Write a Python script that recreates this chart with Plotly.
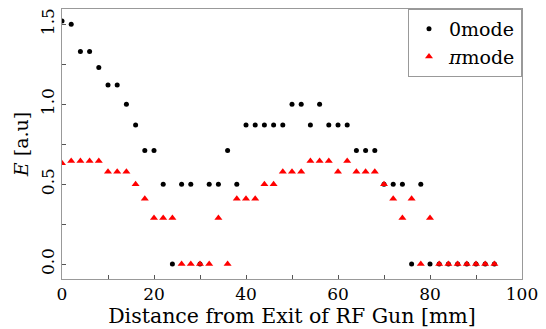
import plotly.graph_objects as go

distance = [0, 2, 4, 6, 8, 10, 12, 14, 16, 18, 20, 22, 24, 26, 28, 30, 32, 34, 36, 38,
            40, 42, 44, 46, 48, 50, 52, 54, 56, 58, 60, 62, 64, 66, 68, 70, 72, 74, 76, 78,
            80, 82, 84, 86, 88, 90, 92, 94]

zero_mode = [1.52, 1.50, 1.33, 1.33, 1.23, 1.12, 1.12, 1.0, 0.87, 0.71, 0.71, 0.5, 0.0, 0.5, 0.5, 0.0,
             0.5, 0.5, 0.71, 0.5, 0.87, 0.87, 0.87, 0.87, 0.87, 1.0, 1.0, 0.87, 1.0, 0.87, 0.87, 0.87,
             0.71, 0.71, 0.71, 0.5, 0.5, 0.5, 0.0, 0.5, 0.0, 0.0, 0.0, 0.0, 0.0, 0.0, 0.0, 0.0]

pi_mode = [0.63, 0.645, 0.645, 0.645, 0.645, 0.577, 0.577, 0.577, 0.5, 0.408, 0.289, 0.289, 0.289, 0.0, 0.0, 0.0,
           0.0, 0.289, 0.0, 0.408, 0.408, 0.408, 0.5, 0.5, 0.577, 0.577, 0.577, 0.645, 0.645, 0.645, 0.577, 0.645,
           0.577, 0.577, 0.577, 0.5, 0.408, 0.289, 0.408, 0.0, 0.289, 0.0, 0.0, 0.0, 0.0, 0.0, 0.0, 0.0]

x_ticks = [0, 20, 40, 60, 80, 100]
y_ticks = [0.0, 0.5, 1.0, 1.5]
y_tick_labels = ["0.0", "0.5", "1.0", "1.5"]

FONT = "DejaVu Serif"

fig = go.Figure()
fig.add_trace(go.Scatter(x=distance, y=zero_mode, mode="markers", name="0mode",
                         marker=dict(symbol="circle", size=5, color="black")))
fig.add_trace(go.Scatter(x=distance, y=pi_mode, mode="markers", name="<i>π</i>mode",
                         marker=dict(symbol="triangle-up", size=7, color="red")))

axis_common = dict(showgrid=False, zeroline=False, showline=True, mirror=True,
                   linecolor="#999999", linewidth=1, ticks="inside", ticklen=4,
                   tickcolor="#555555", tickfont=dict(family=FONT, size=17, color="black"))

fig.update_xaxes(range=[0, 100], tickvals=x_ticks,
                 minor=dict(ticks="inside", dtick=10, ticklen=4, tickcolor="#555555"),
                 title=dict(text="Distance from Exit of RF Gun [mm]",
                            font=dict(family=FONT, size=20.5, color="black"), standoff=2),
                 **axis_common)
fig.update_yaxes(range=[-0.093, 1.595], tickvals=y_ticks, ticktext=y_tick_labels, tickangle=-90,
                 minor=dict(ticks="inside", dtick=0.25, tick0=0, ticklen=4, tickcolor="#555555"),
                 title=dict(text="<i>E</i> [a.u]",
                            font=dict(family=FONT, size=19, color="black"), standoff=4),
                 **axis_common)

fig.update_layout(
    width=546, height=329,
    margin=dict(l=62, r=18, t=8, b=47),
    plot_bgcolor="white", paper_bgcolor="white",
    showlegend=True,
    legend=dict(x=1, y=1, xanchor="right", yanchor="top",
                bordercolor="#999999", borderwidth=1, bgcolor="white",
                font=dict(family=FONT, size=19, color="black"),
                itemsizing="trace", itemwidth=30, tracegroupgap=0),
)

fig.write_html("out.html")
